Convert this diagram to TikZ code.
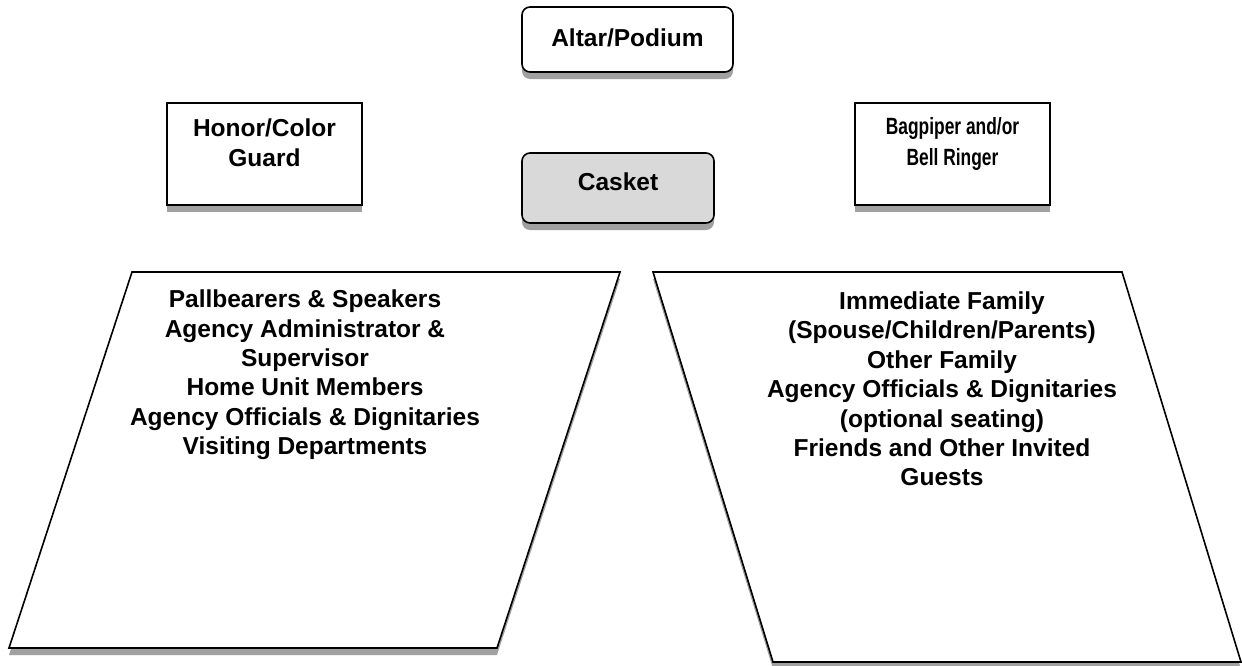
\documentclass[tikz,border=0pt]{standalone}
\usepackage{fontspec}
\setmainfont{Liberation Sans}
\usetikzlibrary{shadows}
\begin{document}
\begin{tikzpicture}[x=1pt,y=-1pt,
  shd/.style={drop shadow={shadow xshift=0pt,shadow yshift=-7pt,fill=black!37,opacity=1}},
  box/.style={draw=black,line width=1.6pt,fill=white,shd,inner sep=0pt},
  rbox/.style={box,rounded corners=8pt},
  txt/.style={font=\bfseries\fontsize{24.5}{30}\selectfont,align=center,inner sep=0pt},
  lst/.style={font=\bfseries\fontsize{24.5}{29.4}\selectfont,align=center,inner sep=0pt}]
\useasboundingbox (0,0) rectangle (1242,665);
% top boxes
\node[rbox,minimum width=211pt,minimum height=65pt] (altar) at (627.5,39.5) {};
\node[txt] (altartxt) at (627.5,38) {Altar/Podium};
\node[box,minimum width=195pt,minimum height=102pt] (honor) at (264.5,154) {};
\node[txt] (honortxt) at (264.5,143) {Honor/Color\\Guard};
\node[box,minimum width=195pt,minimum height=102pt] (bag) at (952.5,154) {};
\node[txt,font=\bfseries\fontsize{23.5}{31}\selectfont,xscale=0.74] (bagtxt) at (952.5,144) {Bagpiper and/or\\Bell Ringer};
\node[rbox,fill=black!15,minimum width=192pt,minimum height=70pt] (casket) at (618,188) {};
\node[txt] (caskettxt) at (618,182) {Casket};
% seating areas
\coordinate (l1) at (132,272); \coordinate (l2) at (620,272);
\coordinate (l3) at (497,648); \coordinate (l4) at (9,648);
\draw[line width=1.6pt,fill=white,shd] (l1) -- (l2) -- (l3) -- (l4) -- cycle;
\coordinate (r1) at (653,272); \coordinate (r2) at (1122,272);
\coordinate (r3) at (1241,662); \coordinate (r4) at (773,662);
\draw[line width=1.6pt,fill=white,shd] (r1) -- (r2) -- (r3) -- (r4) -- cycle;
\node[lst] (lefttxt) at (305,375) {Pallbearers \& Speakers\\Agency Administrator \&\\Supervisor\\Home Unit Members\\Agency Officials \& Dignitaries\\Visiting Departments};
\node[lst] (righttxt) at (942,389) {Immediate Family\\(Spouse/Children/Parents)\\Other Family\\Agency Officials \& Dignitaries\\(optional seating)\\Friends and Other Invited\\Guests};
\end{tikzpicture}
\end{document}
